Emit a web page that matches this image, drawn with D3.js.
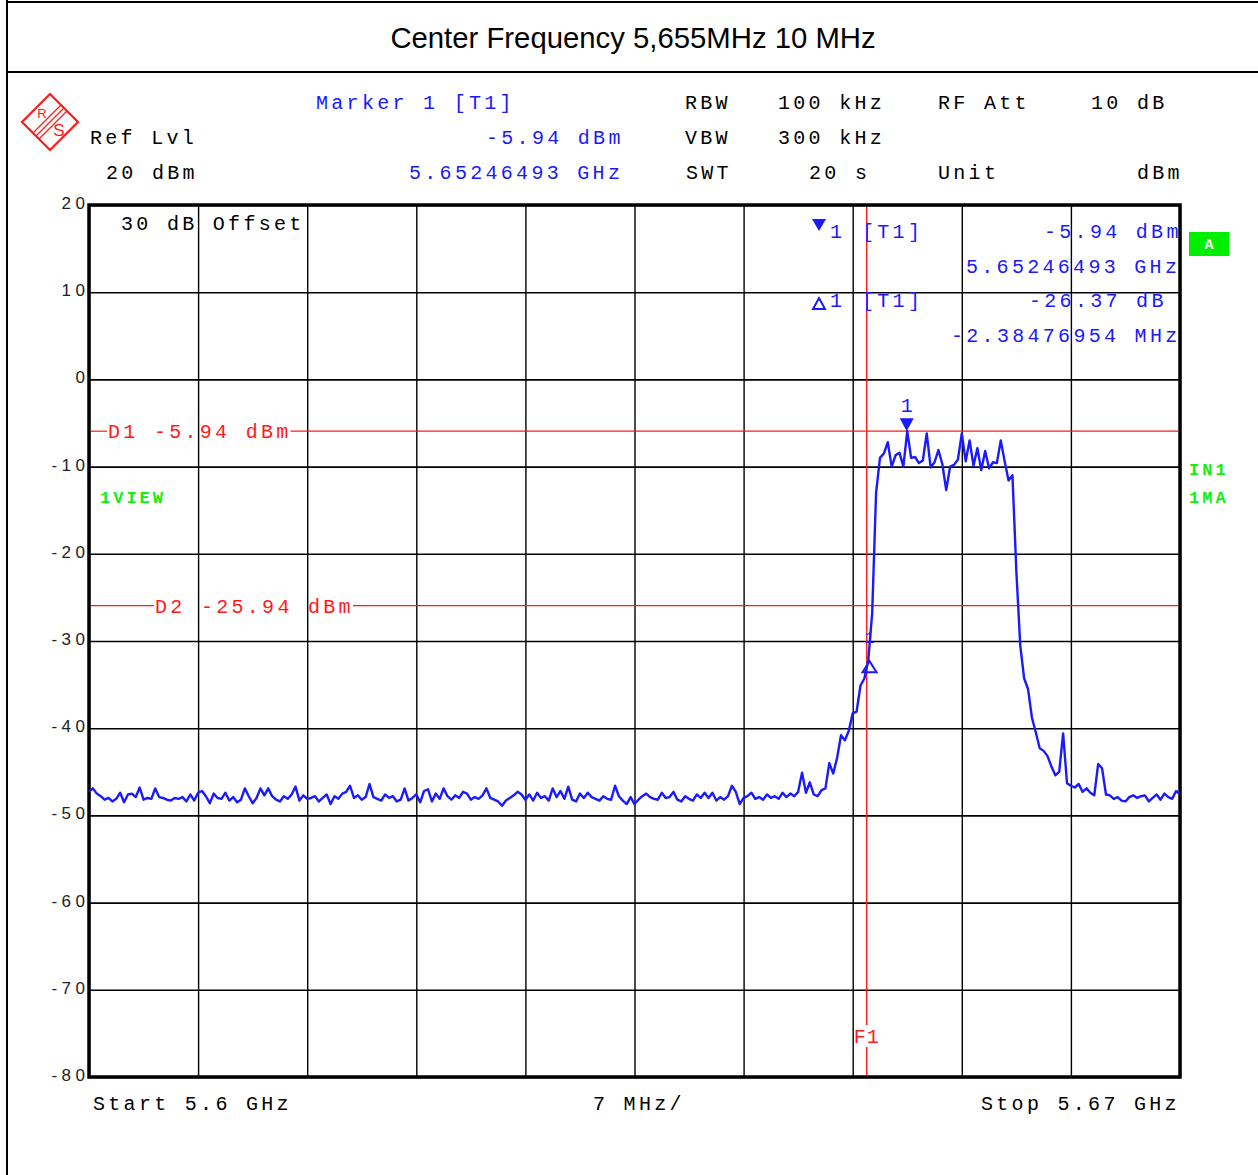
<!DOCTYPE html>
<html><head><meta charset="utf-8">
<script src="https://cdn.jsdelivr.net/npm/d3@7"></script>
<style>body{margin:0;background:#fff} svg{display:block}</style>
</head><body>
<svg id="c" width="1258" height="1175"></svg>
<script>
// ---------- data ----------
const freqStartMHz = 5600, freqStopMHz = 5670, freqStepMHz = 0.25;
const levelTicks = [20, 10, 0, -10, -20, -30, -40, -50, -60, -70, -80];
const freqGrid = [5600, 5607, 5614, 5621, 5628, 5635, 5642, 5649, 5656, 5663, 5670];
// trace level (dBm) at each sweep point
const traceLevels = [
 -47.3,-46.9,-47.5,-47.8,-48.2,-48.0,-48.4,-48.1,-47.4,-48.5,-47.6,-47.5,-47.9,-46.8,-48.2,-48.0,-48.1,-46.9,-47.9,-48.0,
 -48.2,-48.3,-48.0,-48.1,-47.9,-48.4,-47.6,-48.3,-47.4,-47.2,-47.8,-48.6,-47.5,-48.0,-48.1,-47.4,-48.3,-47.9,-48.5,-48.2,
 -46.9,-47.8,-48.6,-48.0,-46.9,-47.7,-46.9,-47.8,-48.2,-48.4,-47.8,-48.1,-47.6,-46.7,-48.3,-47.7,-48.1,-48.0,-47.8,-48.4,
 -48.0,-47.6,-48.7,-47.8,-48.1,-47.5,-47.3,-46.6,-48.0,-47.7,-48.2,-47.9,-46.4,-47.9,-48.1,-48.3,-47.6,-48.0,-47.8,-48.4,
 -48.2,-46.9,-48.3,-48.0,-47.6,-48.5,-47.2,-47.0,-48.4,-47.5,-48.1,-46.9,-47.8,-48.2,-47.7,-48.0,-47.3,-47.5,-48.2,-47.9,
 -48.1,-47.7,-46.9,-48.0,-48.2,-48.4,-48.9,-48.3,-48.0,-47.7,-47.3,-47.6,-48.2,-47.6,-48.3,-47.4,-48.0,-47.8,-48.3,-46.9,
 -47.9,-47.2,-48.1,-46.7,-48.2,-48.4,-47.5,-48.0,-47.4,-47.9,-48.1,-48.3,-47.8,-48.1,-48.2,-46.6,-47.8,-48.3,-48.7,-47.9,
 -48.7,-48.2,-47.8,-47.5,-47.9,-48.1,-48.2,-47.4,-48.0,-47.9,-47.3,-48.2,-48.4,-47.8,-48.1,-48.3,-47.6,-48.0,-47.4,-48.0,
 -47.4,-48.3,-47.9,-48.2,-47.8,-46.6,-47.3,-48.7,-48.0,-47.8,-47.4,-48.1,-47.9,-48.2,-47.6,-48.0,-47.8,-48.1,-47.4,-47.9,
 -47.5,-47.8,-47.3,-45.1,-47.4,-46.2,-47.6,-47.8,-47.1,-46.9,-44.0,-45.2,-43.4,-40.8,-41.4,-40.3,-38.3,-38.1,-35.1,-34.3,
 -32.2,-26.8,-13.0,-9.0,-8.5,-7.2,-10.0,-8.7,-8.4,-10.0,-5.94,-9.0,-8.9,-9.6,-9.3,-6.2,-10.1,-9.5,-8.1,-9.7,
 -12.7,-10.0,-9.8,-9.2,-6.2,-9.4,-7.0,-9.9,-7.9,-10.4,-8.2,-10.2,-9.5,-9.6,-7.0,-9.4,-11.6,-11.0,-22.0,-30.5,
 -34.3,-35.5,-38.8,-40.5,-42.3,-42.6,-43.2,-44.4,-45.4,-45.0,-40.6,-46.3,-46.6,-46.8,-46.4,-47.3,-46.9,-47.4,-47.7,-44.1,
 -44.6,-47.6,-47.7,-48.1,-47.9,-48.3,-48.4,-47.9,-47.7,-48.0,-47.8,-47.7,-48.4,-48.0,-47.6,-48.2,-47.5,-47.9,-48.1,-47.2,
 -47.6
];
const marker1 = { freq: 5652.46493, level: -5.94 };
const delta1 = { freq: 5650.08016, level: -32.31 };
const displayLineLevels = [-5.94, -25.94];
const displayLineLabels = ["D1 -5.94 dBm", "D2 -25.94 dBm"];
const f1FreqMHz = 5649.9;

// ---------- drawing ----------
const svg = d3.select("#c");
const L = 89, R = 1180, T = 205, B = 1077;
const x = d3.scaleLinear().domain([freqStartMHz, freqStopMHz]).range([L, R]);
const y = d3.scaleLinear().domain([-80, 20]).range([B, T]);

const BLUE = "#1a1aff", RED = "#ff1a1a", GREEN = "#11ee11";
const MONO = "'Liberation Mono', 'DejaVu Sans Mono', monospace";

function txt(g, px, py, s, o = {}) {
  return g.append("text").attr("x", px).attr("y", py).text(s)
    .attr("font-family", o.family || MONO)
    .attr("font-size", o.size || 20)
    .attr("letter-spacing", o.ls !== undefined ? o.ls : 3.3)
    .attr("font-weight", o.weight || "normal")
    .attr("text-anchor", o.anchor || "start")
    .attr("fill", o.fill || "#000");
}

svg.append("rect").attr("width", 1258).attr("height", 1175).attr("fill", "#fff");
// outer frame
svg.append("line").attr("x1", 7).attr("x2", 7).attr("y1", 0).attr("y2", 1175).attr("stroke", "#000").attr("stroke-width", 2);
svg.append("line").attr("x1", 7).attr("x2", 1258).attr("y1", 2).attr("y2", 2).attr("stroke", "#000").attr("stroke-width", 2);
svg.append("line").attr("x1", 7).attr("x2", 1258).attr("y1", 72).attr("y2", 72).attr("stroke", "#000").attr("stroke-width", 2);

// title
svg.append("text").attr("x", 633).attr("y", 48).attr("text-anchor", "middle")
  .attr("font-family", "'Liberation Sans', Arial, sans-serif").attr("font-size", 29.3)
  .attr("fill", "#000").text("Center Frequency 5,655MHz 10 MHz");

// R&S logo
const logo = svg.append("g").attr("transform", "translate(50,122)");
logo.append("path").attr("d", "M0,-28 L28,0 L0,28 L-28,0 Z").attr("fill", "none").attr("stroke", RED).attr("stroke-width", 2.2);
[-3, 0, 3].forEach(o => {
  logo.append("line").attr("x1", -14 + o).attr("y1", 14 + o).attr("x2", 14 + o).attr("y2", -14 + o)
    .attr("stroke", RED).attr("stroke-width", 1.2);
});
logo.append("text").attr("x", -8).attr("y", -4).attr("text-anchor", "middle").attr("font-family", "'Liberation Sans',sans-serif")
  .attr("font-size", 13).attr("fill", RED).text("R");
logo.append("text").attr("x", 9).attr("y", 14).attr("text-anchor", "middle").attr("font-family", "'Liberation Sans',sans-serif")
  .attr("font-size", 17).attr("fill", RED).text("S");

// header
const hd = svg.append("g");
txt(hd, 316, 109, "Marker 1 [T1]", { fill: BLUE });
txt(hd, 90, 144, "Ref Lvl");
txt(hd, 486, 144, "-5.94 dBm", { fill: BLUE });
txt(hd, 106, 179, "20 dBm");
txt(hd, 409, 179, "5.65246493 GHz", { fill: BLUE });
txt(hd, 685, 109, "RBW");
txt(hd, 778, 109, "100 kHz");
txt(hd, 938, 109, "RF Att");
txt(hd, 1091, 109, "10 dB");
txt(hd, 685, 144, "VBW");
txt(hd, 778, 144, "300 kHz");
txt(hd, 686, 179, "SWT");
txt(hd, 809, 179, "20 s");
txt(hd, 938, 179, "Unit");
txt(hd, 1137, 179, "dBm");

// grid via axes
const gy = svg.append("g").attr("transform", `translate(${L},0)`)
  .call(d3.axisLeft(y).tickValues(levelTicks).tickSize(-(R - L)).tickPadding(4).tickFormat(d => d));
gy.select(".domain").remove();
gy.selectAll(".tick line").attr("stroke", "#000").attr("stroke-width", 1.6);
gy.selectAll(".tick text").attr("font-family", "'Liberation Sans', Arial, sans-serif").attr("font-size", 17)
  .attr("letter-spacing", 4.5).attr("fill", "#222").attr("dx", 4.5).attr("dy", "0.2em");

const gx = svg.append("g").attr("transform", `translate(0,${B})`)
  .call(d3.axisBottom(x).tickValues(freqGrid).tickSize(-(B - T)).tickFormat(""));
gx.select(".domain").remove();
gx.selectAll(".tick line").attr("stroke", "#000").attr("stroke-width", 1.4);

// frame
svg.append("rect").attr("x", L).attr("y", T).attr("width", R - L).attr("height", B - T)
  .attr("fill", "none").attr("stroke", "#000").attr("stroke-width", 3.5);

// display lines with labels
const labelStartX = [108, 155];
displayLineLevels.forEach((lv, k) => {
  const yy = y(lv);
  const t = txt(svg, labelStartX[k], yy + 7, displayLineLabels[k], { fill: RED });
  const w = t.node().getComputedTextLength();
  svg.append("line").attr("x1", L + 2).attr("x2", labelStartX[k] - 1).attr("y1", yy).attr("y2", yy).attr("stroke", RED).attr("stroke-width", 1.2);
  svg.append("line").attr("x1", labelStartX[k] + w - 1).attr("x2", R - 2).attr("y1", yy).attr("y2", yy).attr("stroke", RED).attr("stroke-width", 1.2);
});

// F1 line
const fx = x(f1FreqMHz);
svg.append("line").attr("x1", fx).attr("x2", fx).attr("y1", T + 2).attr("y2", 1025).attr("stroke", RED).attr("stroke-width", 1.4);
svg.append("line").attr("x1", fx).attr("x2", fx).attr("y1", 1047).attr("y2", B - 2).attr("stroke", RED).attr("stroke-width", 1.4);
txt(svg, fx, 1043, "F1", { fill: RED, anchor: "middle", ls: 1 });

// trace
const pts = traceLevels.map((v, i) => [freqStartMHz + i * freqStepMHz, v]);
svg.append("path").datum(pts)
  .attr("d", d3.line().x(d => x(d[0])).y(d => y(d[1])))
  .attr("fill", "none").attr("stroke", BLUE).attr("stroke-width", 2.4).attr("stroke-linejoin", "round");

// marker 1 on trace (filled down triangle)
const mx = x(marker1.freq), my = y(marker1.level);
svg.append("path").attr("d", `M${mx - 7},${my - 13} L${mx + 7},${my - 13} L${mx},${my} Z`).attr("fill", BLUE);
txt(svg, mx, my - 19, "1", { fill: BLUE, anchor: "middle", ls: 0 });

// delta marker on trace (open up triangle)
const dx = x(delta1.freq), dy = y(delta1.level);
svg.append("path").attr("d", `M${dx},${dy} L${dx + 7},${dy + 11} L${dx - 7},${dy + 11} Z`)
  .attr("fill", "none").attr("stroke", BLUE).attr("stroke-width", 2);
txt(svg, dx, dy - 18, "1", { fill: BLUE, anchor: "middle", ls: 0, size: 16 });

// marker info box
svg.append("path").attr("d", "M812,219 L826,219 L819,231 Z").attr("fill", BLUE);
txt(svg, 830, 238, "1", { fill: BLUE, ls: 0 });
txt(svg, 862, 238, "[T1]", { fill: BLUE });
txt(svg, 1044, 238, "-5.94 dBm", { fill: BLUE });
txt(svg, 966, 273, "5.65246493 GHz", { fill: BLUE });
svg.append("path").attr("d", "M819,298 L825,309 L813,309 Z").attr("fill", "none").attr("stroke", BLUE).attr("stroke-width", 2);
txt(svg, 830, 307, "1", { fill: BLUE, ls: 0 });
txt(svg, 862, 307, "[T1]", { fill: BLUE });
txt(svg, 1029, 307, "-26.37 dB", { fill: BLUE });
txt(svg, 951, 342, "-2.38476954 MHz", { fill: BLUE });

txt(svg, 121, 230, "30 dB Offset");

// green status labels
svg.append("rect").attr("x", 1189).attr("y", 232).attr("width", 40).attr("height", 24).attr("fill", "#00ee00");
txt(svg, 1209, 249, "A", { fill: "#fff", weight: "bold", anchor: "middle", size: 15, ls: 0 });
txt(svg, 100, 503, "1VIEW", { fill: GREEN, weight: "bold", size: 17, ls: 3 });
txt(svg, 1189, 475, "IN1", { fill: GREEN, weight: "bold", size: 17, ls: 3 });
txt(svg, 1189, 503, "1MA", { fill: GREEN, weight: "bold", size: 17, ls: 3 });

// bottom labels
txt(svg, 93, 1110, "Start 5.6 GHz");
txt(svg, 593, 1110, "7 MHz/");
txt(svg, 981, 1110, "Stop 5.67 GHz");
</script>
</body></html>
